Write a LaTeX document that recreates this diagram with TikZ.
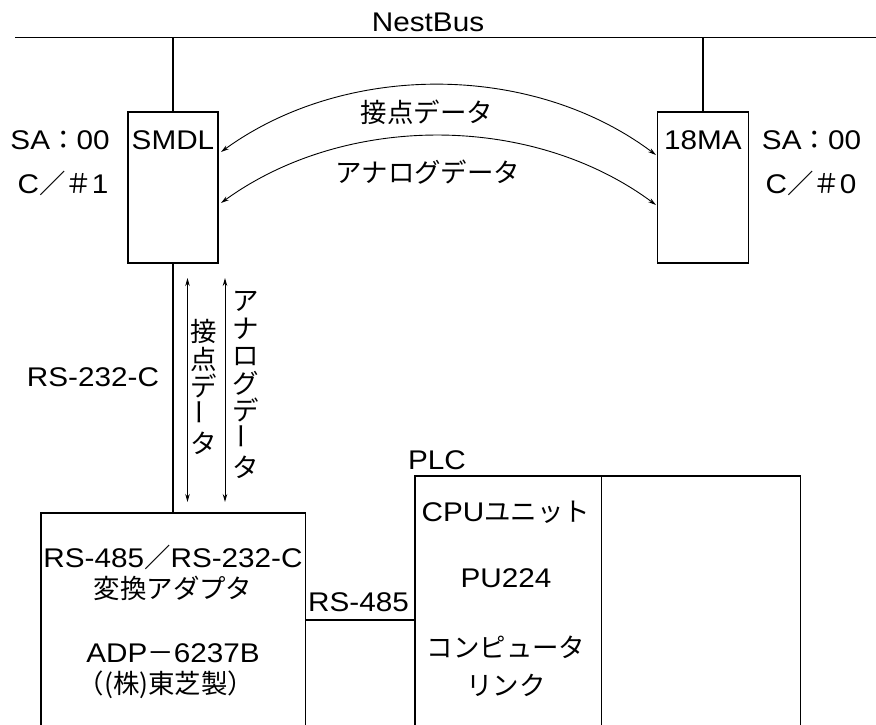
\documentclass[tikz,border=0pt]{standalone}
\usepackage{fontspec}
\setmainfont{Liberation Sans}[FakeStretch=1.1]
\newfontfamily\jp{Noto Sans CJK JP}[Scale=0.98]
\usetikzlibrary{arrows.meta,calc}
\begin{document}
\begin{tikzpicture}[x=1pt,y=-1pt,line width=1.1pt,
  box/.style={draw,rectangle,inner sep=0pt},
  txt/.style={inner sep=0pt,font=\fontsize{27}{30}\selectfont},
  vtxt/.style={inner sep=0pt,align=center,font=\jp\fontsize{27}{27.5}\selectfont},
  dbl/.style={{Stealth[length=8pt,width=4.5pt]}-{Stealth[length=8pt,width=4.5pt]},line width=0.9pt}]
\useasboundingbox (0,0) rectangle (876,724);
% boxes
\node[box,minimum width=90pt,minimum height=151pt] (smdl) at (173,187.5) {};
\node[box,minimum width=91pt,minimum height=151pt] (ma) at (703,187.5) {};
\node[box,minimum width=264.6pt,minimum height=230pt] (adp) at (173.3,628) {};
\node[box,minimum width=186.7pt,minimum height=270pt] (plcl) at (508.35,611) {};
\node[box,minimum width=198.9pt,minimum height=270pt] (plcr) at (701.15,611) {};
% bus
\coordinate (busL) at (15,37.5);
\coordinate (busR) at (876,37.5);
\draw (busL) -- (busR);
\node[txt] (nb) at (428,22) {NestBus};
\draw (smdl.north) -- (smdl.north |- busL);
\draw (ma.north) -- (ma.north |- busL);
% texts near boxes
\node[txt] (sal) at (60,140) {SA{\jp ：}00};
\node[txt] (cl) at (63,183) {C{\jp ／＃}1};
\node[txt] (smdlt) at (173,140) {SMDL};
\node[txt] (mat) at (703,140) {18MA};
\node[txt] (sar) at (811.5,140) {SA{\jp ：}00};
\node[txt] (cr) at (811,183) {C{\jp ／＃}0};
% arcs
\coordinate (u1) at (656,155);
\coordinate (u2) at (221,152);
\coordinate (l1) at (656,205);
\coordinate (l2) at (221,203);
\draw[dbl] (u2) .. controls (345,62) and (532,62) .. (u1);
\draw[dbl] (l2) .. controls (345,113) and (532,113) .. (l1);
\node[txt] (t1) at (427,112) {\jp 接点データ};
\node[txt] (t2) at (428,172) {\jp アナログデータ};
% RS-232-C
\draw (smdl.south) -- (adp.north -| smdl.south);
\node[txt] (rs232) at (93,377) {RS-232-C};
\coordinate (a1t) at (187.5,278);
\coordinate (a1b) at (187.5,502);
\coordinate (a2t) at (225,278);
\coordinate (a2b) at (225,502);
\draw[dbl] (a1t) -- (a1b);
\draw[dbl] (a2t) -- (a2b);
\node[vtxt] (v1) at (204,387) {接\\点\\デ\\\rotatebox{90}{ー}\\タ};
\node[vtxt] (v2) at (246,385) {ア\\ナ\\ロ\\グ\\デ\\\rotatebox{90}{ー}\\タ};
% RS-485
\coordinate (p485) at (0,620);
\draw (adp.east |- p485) -- (plcl.west |- p485);
\node[txt] (rs485) at (358.5,602) {RS-485};
\node[txt] (plc) at (437,460) {PLC};
% adapter texts
\node[txt] (a1) at (173,557) {RS-485{\jp ／}RS-232-C};
\node[txt] (a2) at (173,588) {\jp 変換アダプタ};
\node[txt] (a3) at (173,653) {ADP{\jp －}6237B};
\node[txt] (a4) at (166,685) {\jp （(株)東芝製）};
% PLC texts
\node[txt] (c1) at (506,512) {CPU{\jp ユニット}};
\node[txt] (c2) at (506,578) {PU224};
\node[txt] (c3) at (506,647) {\jp コンピュータ};
\node[txt] (c4) at (506,685) {\jp リンク};
\end{tikzpicture}
\end{document}
